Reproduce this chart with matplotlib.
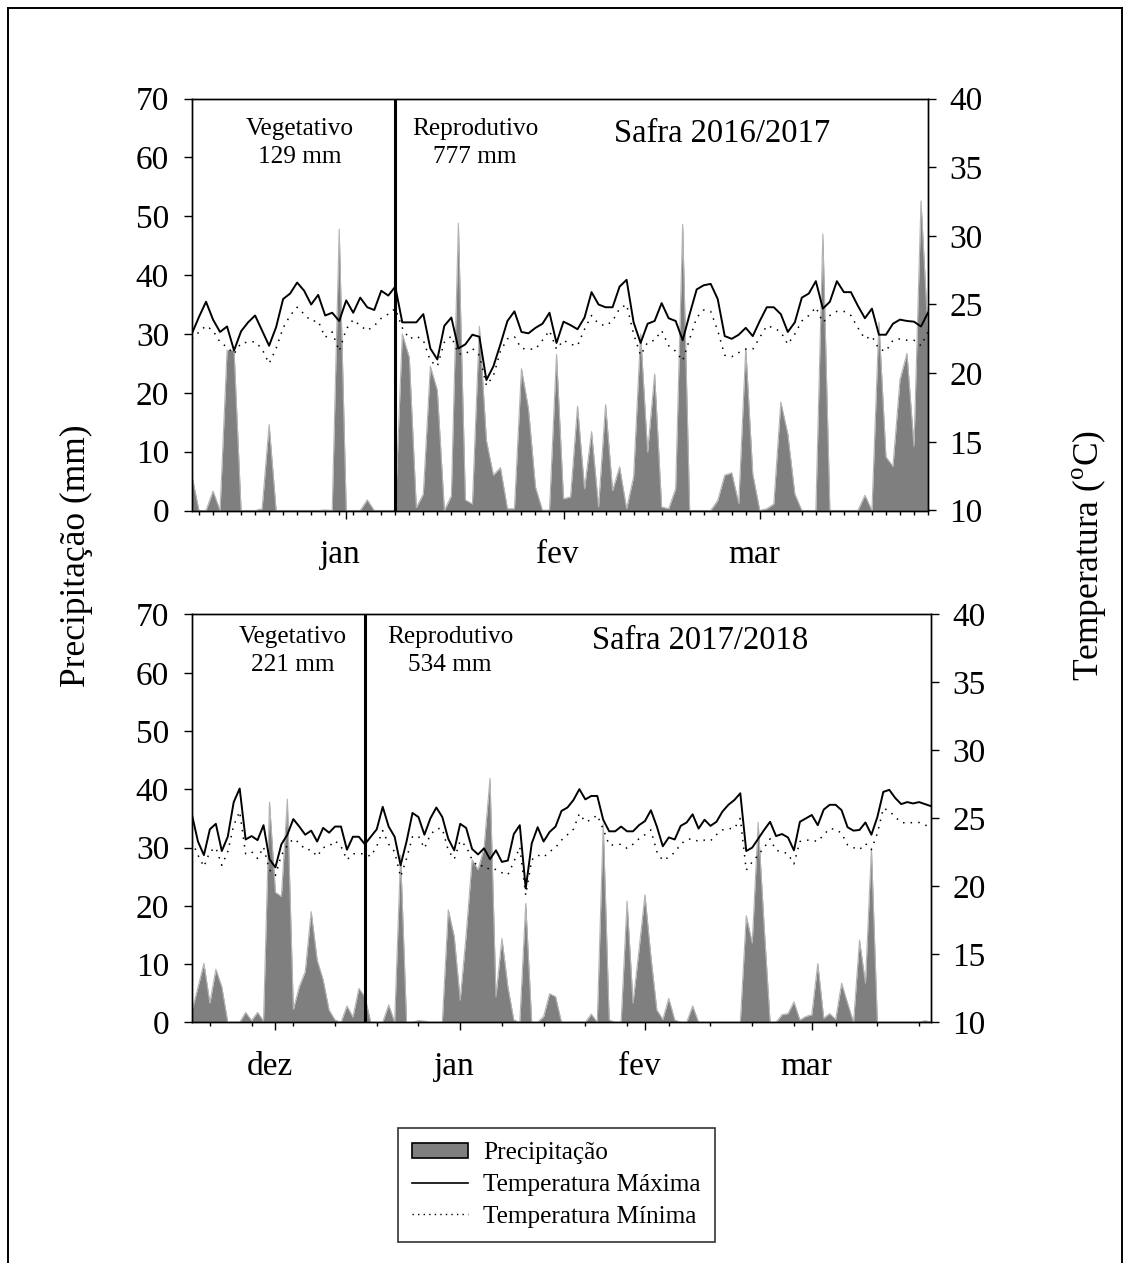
import matplotlib
matplotlib.use('Agg')
import matplotlib.pyplot as plt
import matplotlib.transforms as mtransforms
from matplotlib.patches import Patch
from matplotlib.lines import Line2D
import pandas as pd

plt.rcParams['font.family'] = ['Liberation Serif', 'DejaVu Serif']
plt.rcParams['mathtext.fontset'] = 'custom'
plt.rcParams['mathtext.rm'] = 'Liberation Serif'

# Safra 2016/2017 - daily series from 24 Dec 2016
start_1617 = '2016-12-24'
prec_1617 = [5.8, 0, 0, 3.3, 0, 27.2, 27.2, 0, 0, 0,
             0.3, 14.6, 0, 0, 0, 0, 0, 0, 0, 0.1,
             0, 47.8, 0, 0, 0, 1.8, 0, 0, 0, 0,
             30.0, 26.0, 0.5, 2.8, 24.5, 20.4, 0, 2.5, 48.8, 1.8,
             1.1, 31.3, 11.9, 6.0, 7.3, 0.3, 0.3, 24.1, 17.3, 4.0,
             0, 0.1, 26.5, 2.0, 2.3, 17.7, 3.7, 13.4, 0.6, 18.0,
             3.4, 7.4, 0.3, 5.7, 30.0, 9.9, 23.2, 0.6, 0.3, 3.7,
             48.6, 0, 0, 0, 0, 1.7, 6.0, 6.4, 1.2, 27.6,
             6.2, 0, 0.3, 1.1, 18.4, 13.0, 2.8, 0, 0, 0,
             47.0, 0, 0, 0, 0, 0, 2.6, 0, 32.0, 9.1,
             7.5, 22.2, 26.7, 10.9, 52.6, 30.0]
tmax_1617 = [22.9, 24.1, 25.2, 23.9, 23.0, 23.4, 21.65, 23.05, 23.7, 24.2,
             23.1, 22.0, 23.35, 25.4, 25.8, 26.6, 26.0, 25.0, 25.7, 24.2,
             24.4, 23.8, 25.3, 24.4, 25.5, 24.8, 24.6, 26.0, 25.65, 26.3,
             23.7, 23.7, 23.7, 24.3, 21.8, 21.0, 23.45, 24.05, 21.8, 22.1,
             22.8, 22.65, 19.5, 20.5, 22.1, 23.8, 24.5, 23.0, 22.9, 23.3,
             23.6, 24.4, 22.2, 23.75, 23.5, 23.2, 24.05, 25.9, 25.0, 24.8,
             24.8, 26.3, 26.8, 23.7, 22.2, 23.6, 23.8, 25.1, 24.0, 23.8,
             22.4, 24.3, 26.1, 26.4, 26.5, 25.4, 22.7, 22.5, 22.8, 23.3,
             22.7, 23.8, 24.8, 24.8, 24.3, 23.0, 23.7, 25.5, 25.8, 26.7,
             24.7, 25.2, 26.7, 25.9, 25.9, 24.9, 24.0, 24.7, 22.8, 22.8,
             23.6, 23.9, 23.8, 23.75, 23.4, 24.4]
tmin_1617 = [22.5, 23.0, 23.45, 23.1, 22.25, 21.9, 21.4, 22.2, 22.25, 22.3,
             21.75, 20.7, 21.8, 23.3, 24.2, 24.8, 24.3, 23.8, 23.8, 22.6,
             23.0, 21.6, 23.2, 23.9, 23.45, 23.1, 23.45, 24.0, 24.3, 24.7,
             23.3, 22.5, 22.7, 22.4, 20.9, 20.5, 22.25, 22.7, 21.4, 21.4,
             21.8, 21.3, 19.1, 19.8, 21.6, 22.5, 22.65, 21.8, 21.75, 21.75,
             22.4, 23.1, 21.75, 22.4, 22.1, 22.0, 23.2, 24.2, 23.6, 23.45,
             23.8, 24.7, 25.0, 22.85, 21.3, 22.25, 22.4, 23.1, 22.0, 21.6,
             20.9, 22.5, 24.05, 24.6, 24.5, 23.1, 21.3, 21.2, 21.5, 21.75,
             21.75, 22.6, 23.45, 23.3, 23.0, 22.1, 22.85, 23.8, 24.2, 24.8,
             23.7, 24.2, 24.5, 24.5, 24.2, 23.3, 22.5, 22.7, 21.75, 21.6,
             22.4, 22.5, 22.4, 22.4, 22.0, 23.0]

# Safra 2017/2018 - daily series from 1 Dec 2017
start_1718 = '2017-12-01'
prec_1718 = [2.0, 6.0, 10.1, 3.3, 9.1, 6.1, 0, 0, 0, 1.7,
             0.3, 1.7, 0.2, 37.8, 22.3, 21.6, 38.3, 2.2, 6.1, 8.7,
             19.0, 10.7, 7.3, 2.1, 0.4, 0, 2.8, 0.9, 5.8, 4.4,
             0, 0, 0, 3.0, 0, 28.7, 0, 0, 0.3, 0.2,
             0, 0, 0, 19.3, 14.7, 3.8, 15.0, 27.9, 26.2, 29.9,
             41.9, 4.4, 14.4, 6.1, 0.4, 0, 20.4, 0, 0, 1.0,
             4.9, 4.4, 0, 0, 0, 0, 0, 1.4, 0, 34.1,
             0.4, 0, 0, 20.8, 3.3, 12.4, 21.9, 11.3, 2.1, 0.5,
             4.1, 0.4, 0, 0, 2.8, 0, 0, 0, 0, 0,
             0, 0, 0, 18.3, 13.6, 34.3, 16.5, 0, 0, 1.3,
             1.5, 3.5, 0.4, 1.0, 1.3, 10.1, 0.7, 1.5, 0.5, 6.7,
             3.3, 0, 14.1, 6.7, 29.9, 0, 0, 0, 0, 0,
             0, 0, 0, 0.3, 0]
tmax_1718 = [25.25, 23.3, 22.3, 24.2, 24.6, 22.6, 23.65, 26.2, 27.2, 23.45,
             23.7, 23.4, 24.5, 22.0, 21.4, 23.1, 23.8, 24.95, 24.4, 23.8,
             24.1, 23.3, 24.3, 23.95, 24.4, 24.4, 22.7, 23.65, 23.65, 23.1,
             23.65, 24.2, 25.85, 24.4, 23.65, 21.55, 23.3, 25.4, 25.1, 23.8,
             25.0, 25.8, 25.1, 23.5, 22.65, 24.6, 24.3, 22.75, 22.35, 22.8,
             22.0, 22.65, 21.8, 21.9, 23.85, 24.5, 19.85, 23.15, 24.35, 23.3,
             24.0, 24.4, 25.55, 25.8, 26.35, 27.15, 26.4, 26.65, 26.65, 24.9,
             24.05, 24.05, 24.4, 24.05, 24.05, 24.5, 24.8, 25.6, 24.4, 22.95,
             23.6, 23.45, 24.45, 24.7, 25.3, 24.25, 24.9, 24.45, 24.75, 25.5,
             26.0, 26.35, 26.85, 22.6, 22.85, 23.5, 24.15, 24.75, 23.7, 23.85,
             23.6, 22.65, 24.75, 25.0, 25.25, 24.5, 25.65, 26.0, 26.0, 25.6,
             24.35, 24.1, 24.15, 24.7, 23.8, 25.1, 26.95, 27.1, 26.5, 26.05,
             26.2, 26.1, 26.2, 26.05, 25.9]
tmin_1718 = [23.3, 22.3, 21.45, 22.55, 22.85, 21.55, 22.55, 24.5, 25.5, 22.4,
             22.55, 22.05, 22.9, 21.2, 20.8, 22.3, 23.0, 23.5, 23.2, 22.7,
             22.7, 22.2, 22.85, 22.95, 23.35, 22.95, 21.95, 22.4, 22.4, 22.4,
             22.2, 22.95, 24.1, 23.1, 22.55, 20.7, 22.05, 23.65, 23.7, 22.8,
             23.8, 24.25, 24.25, 22.65, 22.0, 23.35, 22.95, 21.95, 21.45, 21.55,
             21.2, 21.25, 21.0, 20.85, 21.8, 22.9, 19.35, 21.95, 22.3, 22.15,
             22.55, 22.85, 23.4, 23.8, 24.2, 25.35, 24.75, 24.9, 25.25, 24.2,
             23.05, 23.05, 23.1, 22.8, 23.1, 23.5, 23.8, 24.15, 22.55, 21.9,
             22.15, 22.5, 23.1, 23.45, 23.5, 23.3, 23.4, 23.35, 23.8, 24.15,
             24.25, 24.25, 25.0, 21.2, 21.8, 22.3, 22.85, 23.5, 22.65, 22.55,
             22.4, 21.65, 23.3, 23.4, 23.4, 23.3, 23.8, 24.25, 24.2, 23.9,
             23.05, 22.85, 22.7, 23.15, 22.7, 23.9, 25.75, 25.55, 25.1, 24.7,
             24.65, 24.7, 24.7, 24.5, 24.4]

month_names = {12: 'dez', 1: 'jan', 2: 'fev', 3: 'mar', 4: 'abr'}
FS = 24
FS_LABEL = 25.5
FS_TITLE = 23.5
FS_SMALL = 18.2

fig = plt.figure(figsize=(11.29, 12.63), dpi=100)


def panel(rect, start, prec, tmax, tmin, split, minor_step, minor_first,
          veg, rep, title, veg_x, rep_x, title_x, ytop, ybot, ytitle):
    dates = pd.date_range(start, periods=len(prec), freq='D')
    ax = fig.add_axes(rect)
    ax.fill_between(dates, prec, 0, color='#7f7f7f', lw=0, zorder=2)
    ax.plot(dates, prec, color='#b4b4b4', lw=0.8, zorder=2)
    ax.axvline(dates[split], color='black', lw=2.2, zorder=4)
    ax.set_xlim(dates[0], dates[-1])
    ax.set_ylim(0, 70)
    ax.set_yticks(range(0, 71, 10))

    ax2 = ax.twinx()
    ax2.plot(dates, tmax, color='black', lw=1.4, zorder=3)
    ax2.plot(dates, tmin, color='black', lw=1.1, linestyle=(0, (1, 4)), zorder=3)
    ax2.set_ylim(10, 40)
    ax2.set_yticks(range(10, 41, 5))
    ax2.set_xlim(dates[0], dates[-1])

    major = [d for d in dates if d.day == 15]
    ax.set_xticks(major)
    ax.set_xticklabels([month_names[d.month] for d in major])
    ax.set_xticks(dates[minor_first::minor_step], minor=True)

    ax.tick_params(axis='x', which='major', direction='out', length=6, width=1,
                   labelsize=FS, pad=15)
    ax.tick_params(axis='x', which='minor', direction='out', length=3, width=1)
    ax.tick_params(axis='y', direction='out', length=5.5, width=1,
                   labelsize=FS, pad=11)
    ax2.tick_params(axis='y', direction='out', length=5.5, width=1,
                    labelsize=FS, pad=10)
    for a in (ax, ax2):
        for s in a.spines.values():
            s.set_linewidth(1.0)

    shift = mtransforms.ScaledTranslation(-0.06, 0, fig.dpi_scale_trans)
    for lab in ax.get_xticklabels():
        lab.set_transform(lab.get_transform() + shift)

    ax2.text(veg_x, ytop, 'Vegetativo', transform=ax.transAxes, ha='center',
             va='center', fontsize=FS_SMALL)
    ax2.text(veg_x, ybot, veg, transform=ax.transAxes, ha='center',
             va='center', fontsize=FS_SMALL)
    ax2.text(rep_x, ytop, 'Reprodutivo', transform=ax.transAxes, ha='center',
             va='center', fontsize=FS_SMALL)
    ax2.text(rep_x, ybot, rep, transform=ax.transAxes, ha='center',
             va='center', fontsize=FS_SMALL)
    ax2.text(title_x, ytitle, title, transform=ax.transAxes, ha='center',
             va='center', fontsize=FS_TITLE)
    return ax


W, H = 1129.0, 1263.0
panel([192 / W, 1 - 510.5 / H, 736 / W, 412 / H], start_1617,
      prec_1617, tmax_1617, tmin_1617, 29, 2, 1,
      '129 mm', '777 mm', 'Safra 2016/2017',
      0.1467, 0.3845, 0.720, 0.926, 0.858, 0.914)
panel([192 / W, 1 - 1022.3 / H, 739 / W, 407.8 / H], start_1718,
      prec_1718, tmax_1718, tmin_1718, 29, 7, 3,
      '221 mm', '534 mm', 'Safra 2017/2018',
      0.1367, 0.349, 0.687, 0.944, 0.875, 0.936)

fig.text(76 / W, 1 - 556 / H, 'Precipitação (mm)', rotation=90,
         ha='center', va='center', fontsize=FS_LABEL)
fig.text(1089 / W, 1 - 556 / H, r'Temperatura ($^{\mathrm{o}}$C)', rotation=90,
         ha='center', va='center', fontsize=FS_LABEL)

handles = [Patch(facecolor='#7f7f7f', edgecolor='black', lw=1.2),
           Line2D([], [], color='black', lw=1.2),
           Line2D([], [], color='black', lw=1.0, linestyle=(0, (1, 3)))]
leg = fig.legend(handles, ['Precipitação', 'Temperatura Máxima', 'Temperatura Mínima'],
                 loc='center', bbox_to_anchor=(556.5 / W, 1 - 1185 / H),
                 fontsize=FS_SMALL, frameon=True, fancybox=False,
                 edgecolor='black', handlelength=2.2, handleheight=0.55,
                 handletextpad=0.6, labelspacing=0.38, borderpad=0.55)
leg.get_frame().set_linewidth(1.2)

# outer frame
for xs, ys in [([8, 8], [0, 1255]), ([8, 1122], [1255, 1255]), ([1122, 1122], [0, 1255])]:
    fig.add_artist(Line2D([x / W for x in xs], [y / H for y in ys],
                          color='black', lw=1.4, transform=fig.transFigure))

fig.savefig('out.png', dpi=100)
